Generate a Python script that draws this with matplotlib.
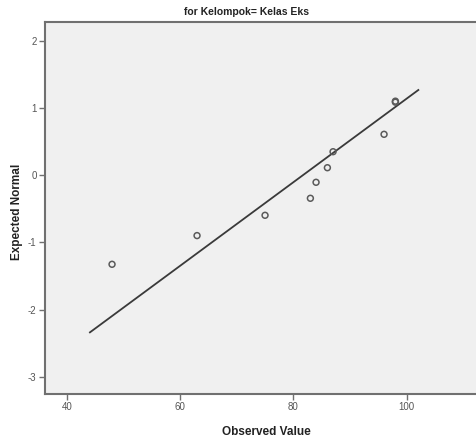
import matplotlib
matplotlib.use("Agg")
import matplotlib.pyplot as plt
from matplotlib import font_manager
import numpy as np

names = {f.name for f in font_manager.fontManager.ttflist}
fam = "Liberation Sans Narrow" if "Liberation Sans Narrow" in names else "Liberation Sans"
plt.rcParams['font.family'] = [fam, 'DejaVu Sans']
plt.rcParams['axes.unicode_minus'] = False

# Data
observed = [48, 63, 75, 83, 84, 86, 87, 96, 98, 98]
expected = [-1.327, -0.90, -0.598, -0.345, -0.107, 0.110, 0.348, 0.607, 1.085, 1.10]
line_mean = 81.7
line_sd = 16.07
line_x = [44.1, 102.05]
xticks = [40, 60, 80, 100]
yticks = [-3, -2, -1, 0, 1, 2]
title = "for Kelompok= Kelas Eks"
xlabel = "Observed Value"
ylabel = "Expected Normal"

fig = plt.figure(figsize=(4.76, 4.42), dpi=100)
ax = fig.add_axes([45/476, 48/442, 435/476, 372/442])
ax.set_facecolor("#f0f0f0")

lx = np.array(line_x)
ax.plot(lx, (lx - line_mean) / line_sd, color="#3a3a3a", lw=1.3, zorder=2)
ax.scatter(observed, expected, s=18, facecolors="none", edgecolors="#5a5a5a",
           linewidths=1.1, zorder=3)

ax.set_xlim(36.17, 112.93)
ax.set_ylim(-3.257, 2.278)
ax.set_xticks(xticks)
ax.set_yticks(yticks)
for s in ax.spines.values():
    s.set_color("#707070")
    s.set_linewidth(1.5)
ax.tick_params(direction="out", length=4, width=1, color="#707070",
               labelsize=7, labelcolor="#555555", pad=2)

fig.text(246/476, 1 - 12/442, title, ha="center", va="center",
         fontsize=7.5, fontweight="bold", color="#222222")
fig.text(266/476, 1 - 432/442, xlabel, ha="center", va="center",
         fontsize=8.5, fontweight="bold", color="#222222")
fig.text(17/476, 1 - 212/442, ylabel, ha="center", va="center", rotation=90,
         fontsize=8.5, fontweight="bold", color="#222222")

fig.savefig("out.png", dpi=100)
